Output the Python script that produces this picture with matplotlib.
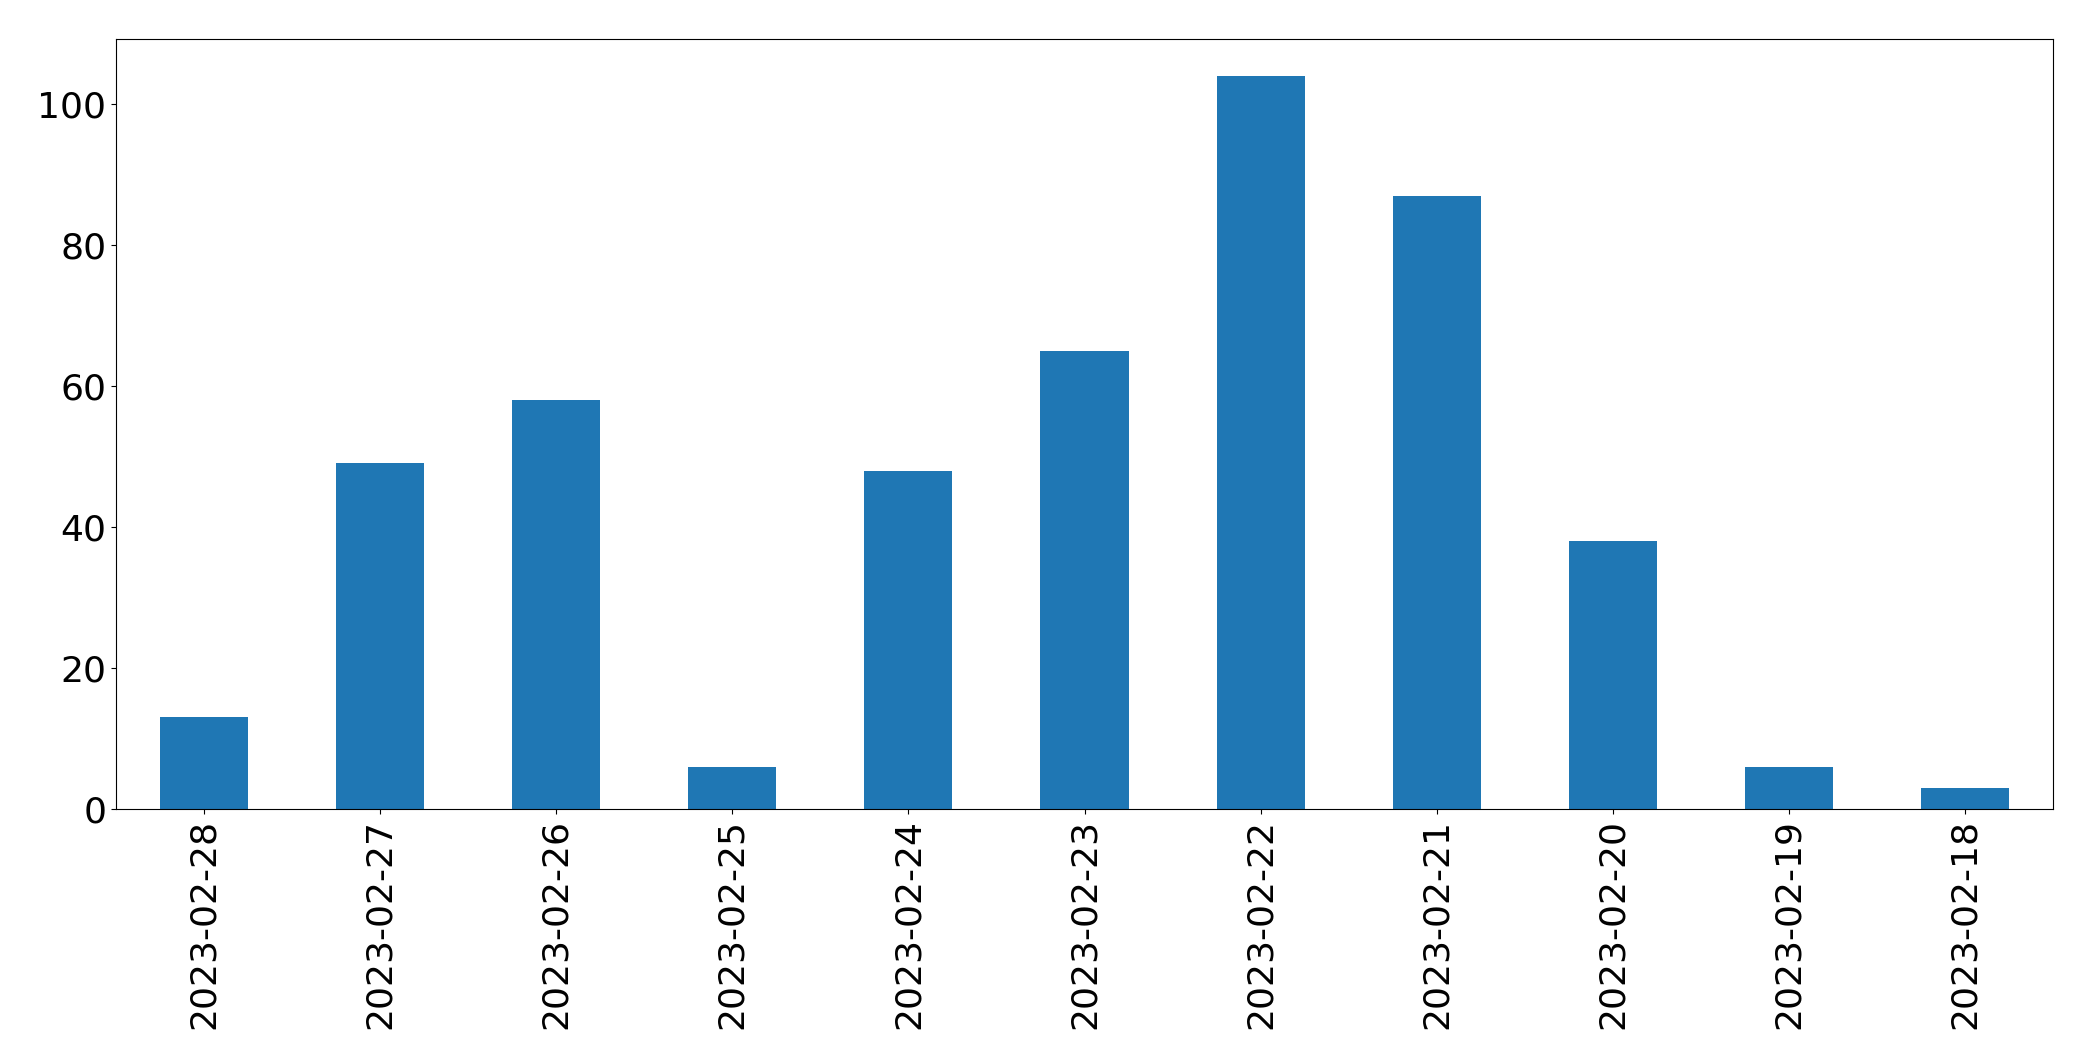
import matplotlib
matplotlib.use("Agg")
import matplotlib.pyplot as plt

dates = ["2023-02-28","2023-02-27","2023-02-26","2023-02-25","2023-02-24","2023-02-23",
         "2023-02-22","2023-02-21","2023-02-20","2023-02-19","2023-02-18"]
counts = [13, 49, 58, 6, 48, 65, 104, 87, 38, 6, 3]

fig = plt.figure(figsize=(20.93, 10.61), dpi=100)
ax = fig.add_axes([116/2093, 1-809/1061, (2053-116)/2093, (809-39)/1061])
x = range(len(dates))
ax.bar(x, counts, width=0.5, color="#1f77b4")
ax.set_xlim(-0.5, len(dates)-0.5)
ax.set_ylim(0, 104*1.05)
ax.set_xticks(list(x))
ax.set_xticklabels(dates, rotation=90)
ax.tick_params(labelsize=26)
fig.savefig("out.png", dpi=100)
